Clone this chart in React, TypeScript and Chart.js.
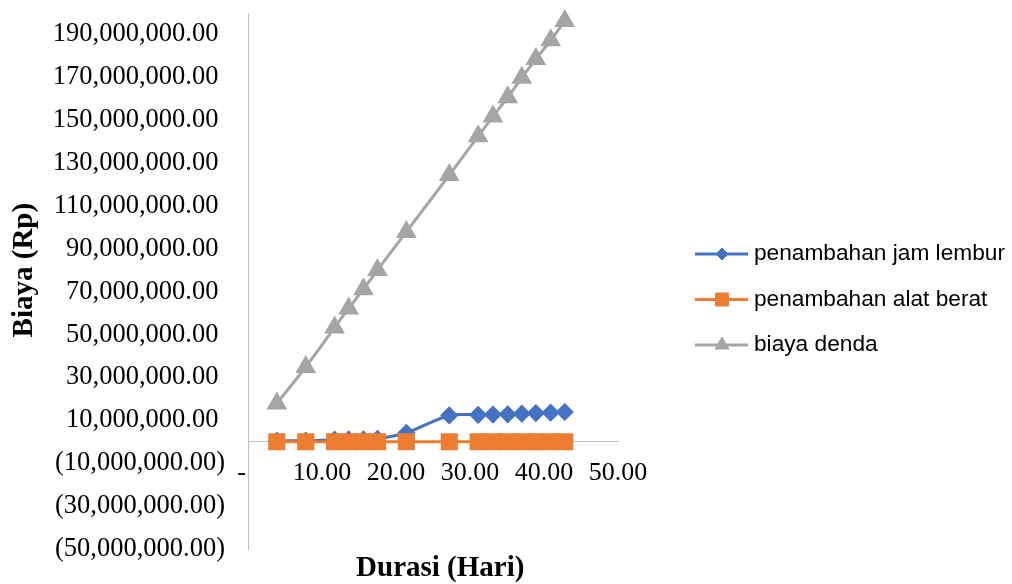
import React, { useEffect, useRef } from 'react';
import { Chart, registerables } from 'chart.js';
import { drawPoint } from 'chart.js/helpers';

Chart.register(...registerables);

// ---- data ----
const durasi = [3.9, 7.8, 11.7, 13.6, 15.6, 17.5, 21.4, 27.2, 31.1, 33.1, 35.1, 37.0, 38.9, 40.9, 42.8];
const jamLembur = [500000, 500000, 1000000, 1100000, 1100000, 1400000, 4200000, 12300000, 12600000, 12700000, 12800000, 13100000, 13400000, 13600000, 13900000];
const alatBerat = [0, 0, 0, 0, 0, 0, 0, 0, 0, 0, 0, 0, 0, 0, 0];
const biayaDenda = [17900000, 34900000, 53300000, 62200000, 71200000, 80100000, 97900000, 124400000, 142500000, 151700000, 160700000, 169800000, 178500000, 187300000, 196300000];
const seriesNames = ['penambahan jam lembur', 'penambahan alat berat', 'biaya denda'];
const yTicks = [-50000000, -30000000, -10000000, 10000000, 30000000, 50000000, 70000000, 90000000, 110000000, 130000000, 150000000, 170000000, 190000000];
const xTicks = [0, 10, 20, 30, 40, 50];

const BLUE = '#4472C4';
const ORANGE = '#ED7D31';
const GRAY = '#A5A5A5';
const AXIS = '#BFBFBF';
const SERIF = '"Liberation Serif", "Times New Roman", serif';

const fmtY = (v: number) => {
  const s = Math.abs(v).toLocaleString('en-US', { minimumFractionDigits: 2, maximumFractionDigits: 2 });
  return v < 0 ? `(${s})` : s + '\u00a0';
};
const fmtX = (v: number) => (v === 0 ? '-\u00a0\u00a0' : v.toFixed(2));

const legendRadius = [6, 9.2, 8];
const legendPlugin = {
  id: 'sideLegend',
  afterDraw(chart: any) {
    const ctx = chart.ctx;
    const x0 = chart.chartArea.right + 77;
    const ys = [254, 299.5, 345];
    chart.data.datasets.forEach((ds: any, i: number) => {
      const y = ys[i];
      ctx.save();
      ctx.strokeStyle = ds.borderColor;
      ctx.lineWidth = 3;
      ctx.beginPath();
      ctx.moveTo(x0, y);
      ctx.lineTo(x0 + 53, y);
      ctx.stroke();
      ctx.fillStyle = ds.borderColor;
      ctx.strokeStyle = ds.borderColor;
      ctx.lineWidth = 1;
      drawPoint(ctx, { pointStyle: ds.pointStyle, radius: legendRadius[i], rotation: 0, borderWidth: 1 } as any, x0 + 27, y);
      ctx.fillStyle = '#000';
      ctx.font = '22.7px "Liberation Sans", Arial, sans-serif';
      ctx.textBaseline = 'middle';
      ctx.textAlign = 'left';
      ctx.fillText(ds.label, x0 + 59, y);
      ctx.restore();
    });
  },
};

export default function App() {
  const ref = useRef<HTMLCanvasElement | null>(null);
  useEffect(() => {
    if (!ref.current) return;
    const mk = (ys: number[]) => durasi.map((x, i) => ({ x, y: ys[i] }));
    const chart = new Chart(ref.current, {
      type: 'line',
      data: {
        datasets: [
          {
            label: seriesNames[0], data: mk(jamLembur), borderColor: BLUE, backgroundColor: BLUE,
            pointBackgroundColor: BLUE, pointBorderColor: BLUE, pointStyle: 'rectRot', pointRadius: 7,
            borderWidth: 3, tension: 0.3, order: 1, clip: false,
          },
          {
            label: seriesNames[1], data: mk(alatBerat), borderColor: ORANGE, backgroundColor: ORANGE,
            pointBackgroundColor: ORANGE, pointBorderColor: ORANGE, pointStyle: 'rect', pointRadius: 10,
            borderWidth: 3, tension: 0.3, order: 0, clip: false,
          },
          {
            label: seriesNames[2], data: mk(biayaDenda), borderColor: GRAY, backgroundColor: GRAY,
            pointBackgroundColor: GRAY, pointBorderColor: GRAY, pointStyle: 'triangle', pointRadius: 9,
            borderWidth: 3, tension: 0.3, order: 2, clip: false,
          },
        ],
      },
      options: {
        animation: false,
        responsive: true,
        maintainAspectRatio: false,
        layout: { padding: { left: 0, top: 0, right: 394, bottom: 0 } },
        plugins: { legend: { display: false }, tooltip: { enabled: false } },
        scales: {
          x: {
            type: 'linear',
            position: { y: 0 } as any,
            min: 0,
            max: 50,
            afterBuildTicks: (s: any) => { s.ticks = xTicks.map((v) => ({ value: v })); },
            ticks: { callback: (v: any) => fmtX(Number(v)), color: '#000', font: { family: SERIF, size: 26 }, padding: 16, maxRotation: 0, autoSkip: false },
            grid: { display: false, drawTicks: false },
            border: { display: true, color: AXIS, width: 1 },
          },
          x2: {
            type: 'linear',
            position: 'bottom',
            min: 0,
            max: 50,
            afterFit: (s: any) => { s.height = 35; },
            ticks: { display: false },
            grid: { display: false, drawTicks: false },
            border: { display: false },
            title: {
              display: true, text: '\u00a0\u00a0Durasi (Hari)', color: '#000',
              font: { family: SERIF, size: 29, weight: 'bold', lineHeight: 1 }, padding: { top: 0, bottom: 1 },
            },
          },
          y: {
            type: 'linear',
            position: 'left',
            min: -50000000,
            max: 200000000,
            afterBuildTicks: (s: any) => { s.ticks = yTicks.map((v) => ({ value: v })); },
            afterFit: (s: any) => { s.width = 248; },
            ticks: { callback: (v: any) => fmtY(Number(v)), color: '#000', font: { family: SERIF, size: 26.5, lineHeight: 0.87 }, padding: 0, autoSkip: false },
            grid: { display: true, drawOnChartArea: false, drawTicks: true, tickLength: 23, tickColor: 'rgba(0,0,0,0)' },
            border: { display: true, color: AXIS, width: 1 },
            title: {
              display: true, text: '\u00a0\u00a0\u00a0Biaya (Rp)', color: '#000',
              font: { family: SERIF, size: 29, weight: 'bold', lineHeight: 1 }, padding: { top: 10, bottom: 0 },
            },
          },
        },
      },
      plugins: [legendPlugin],
    });
    return () => chart.destroy();
  }, []);
  return (
    <div style={{ position: 'absolute', left: 0, top: 0, width: 1012, height: 584, background: '#fff' }}>
      <canvas ref={ref} />
    </div>
  );
}
